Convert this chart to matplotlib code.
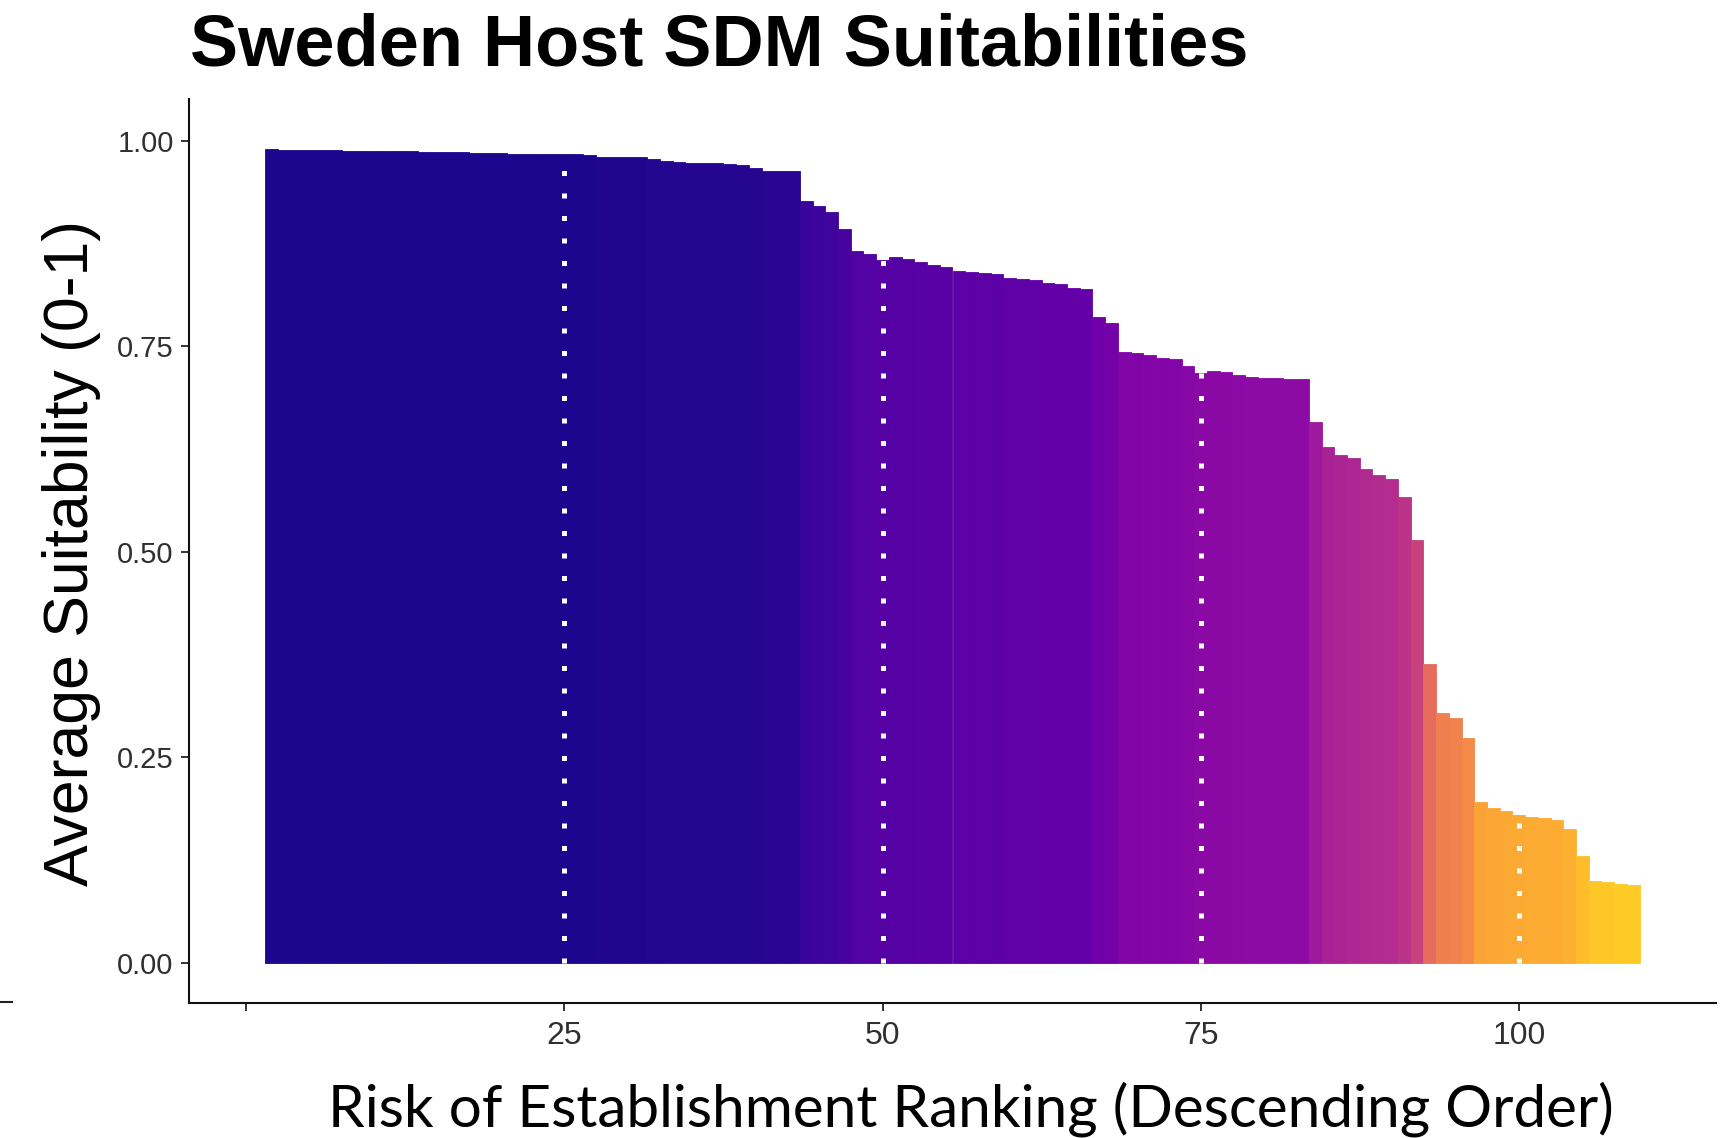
import matplotlib
matplotlib.use('Agg')
import matplotlib.pyplot as plt
import numpy as np
from matplotlib.lines import Line2D

# average suitability per host, in ranking order (ranks start at 2)
suitability = [
    0.9897, 0.9895, 0.9891, 0.9889, 0.9887, 0.9885, 0.9883, 0.9881, 0.9880, 0.9878,
    0.9876, 0.9874, 0.9868, 0.9865, 0.9863, 0.9860, 0.9852, 0.9849, 0.9847, 0.9845,
    0.9840, 0.9839, 0.9839, 0.9838, 0.9837, 0.9825, 0.9810, 0.9808, 0.9806, 0.9804,
    0.9775, 0.9750, 0.9738, 0.9736, 0.9734, 0.9732, 0.9722, 0.9705, 0.9669, 0.9632,
    0.9630, 0.9628, 0.9264, 0.9207, 0.9134, 0.8927, 0.8655, 0.8620, 0.8555, 0.8590,
    0.8558, 0.8529, 0.8488, 0.8468, 0.8415, 0.8399, 0.8387, 0.8375, 0.8326, 0.8314,
    0.8302, 0.8266, 0.8253, 0.8205, 0.8193, 0.7855, 0.7790, 0.7430, 0.7414, 0.7395,
    0.7361, 0.7345, 0.7259, 0.7180, 0.7195, 0.7190, 0.7146, 0.7122, 0.7120, 0.7118,
    0.7101, 0.7100, 0.6582, 0.6278, 0.6184, 0.6144, 0.6002, 0.5933, 0.5892, 0.5661,
    0.5142, 0.3641, 0.3033, 0.2980, 0.2736, 0.1950, 0.1877, 0.1844, 0.1795, 0.1779,
    0.1762, 0.1742, 0.1625, 0.1296, 0.0992, 0.0983, 0.0963, 0.0943,
]
first_rank = 2

x_ticks = [0, 25, 50, 75, 100]
x_tick_labels = ['', '25', '50', '75', '100']
y_ticks = [0.0, 0.25, 0.5, 0.75, 1.0]
y_tick_labels = ['0.00', '0.25', '0.50', '0.75', '1.00']
quartile_marks = [25, 50, 75, 100]

title = 'Sweden Host SDM Suitabilities'
y_label = 'Average Suitability (0-1)'
x_label = 'Risk of Establishment Ranking (Descending Order)'

W, H = 1725, 1138
ranks = np.arange(first_rank, first_rank + len(suitability))
vals = np.array(suitability)
shade = 0.02 + (vals.max() - vals) / (vals.max() - vals.min()) * 0.87
colours = plt.cm.plasma(shade)

fig = plt.figure(figsize=(W / 100, H / 100), dpi=100)
ax = fig.add_axes([189 / W, 1 - 1003 / H, (1716 - 189) / W, (1003 - 99) / H])

ax.bar(ranks, vals, width=1.0, color=colours, edgecolor=colours, linewidth=0.6)
for m in quartile_marks:
    ax.vlines(m, 0, 1.05, colors='white', linewidth=3.6,
              linestyles=[(0, (1, 3.5))], capstyle='butt')

ax.set_xlim(-4.5, 115.5)
ax.set_ylim(-0.049, 1.051)
ax.set_xticks(x_ticks)
ax.set_xticklabels(x_tick_labels)
ax.set_yticks(y_ticks)
ax.set_yticklabels(y_tick_labels)

for s in ['top', 'right']:
    ax.spines[s].set_visible(False)
for s in ['left', 'bottom']:
    ax.spines[s].set_linewidth(1.5)
    ax.spines[s].set_color('#111111')

ax.tick_params(axis='y', length=6, width=1.2, pad=5, labelsize=21,
               labelcolor='#303030', colors='#111111')
ax.tick_params(axis='x', length=6, width=1.2, pad=7, labelsize=23,
               labelcolor='#303030', colors='#111111')
for lab in ax.get_xticklabels() + ax.get_yticklabels():
    lab.set_fontfamily('Liberation Sans')
    lab.set_color('#303030')

t_title = fig.text(190 / W, 1 - 66 / H, title, ha='left', va='baseline',
                   fontsize=50, fontweight='bold', family='Liberation Sans')
t_ylab = fig.text(72 / W, 1 - 553 / H, y_label, ha='center', va='center',
                  rotation=90, fontsize=45, family='Liberation Sans')
t_xlab = fig.text(971 / W, 1 - 1109 / H, x_label, ha='center', va='center',
                  fontsize=42, family='Lato')

# stray axis tick left over at the far left
fig.add_artist(Line2D([0, 12 / W], [1 - 1002 / H] * 2, transform=fig.transFigure,
                      color='#222222', linewidth=1.5))


def fit(txt, target_px, vertical=False):
    fig.canvas.draw()
    bb = txt.get_window_extent()
    size = bb.height if vertical else bb.width
    txt.set_fontsize(txt.get_fontsize() * target_px / size)


fit(t_title, 1059)
fit(t_ylab, 666, vertical=True)
fit(t_xlab, 1287)

fig.savefig('out.png', dpi=100)
